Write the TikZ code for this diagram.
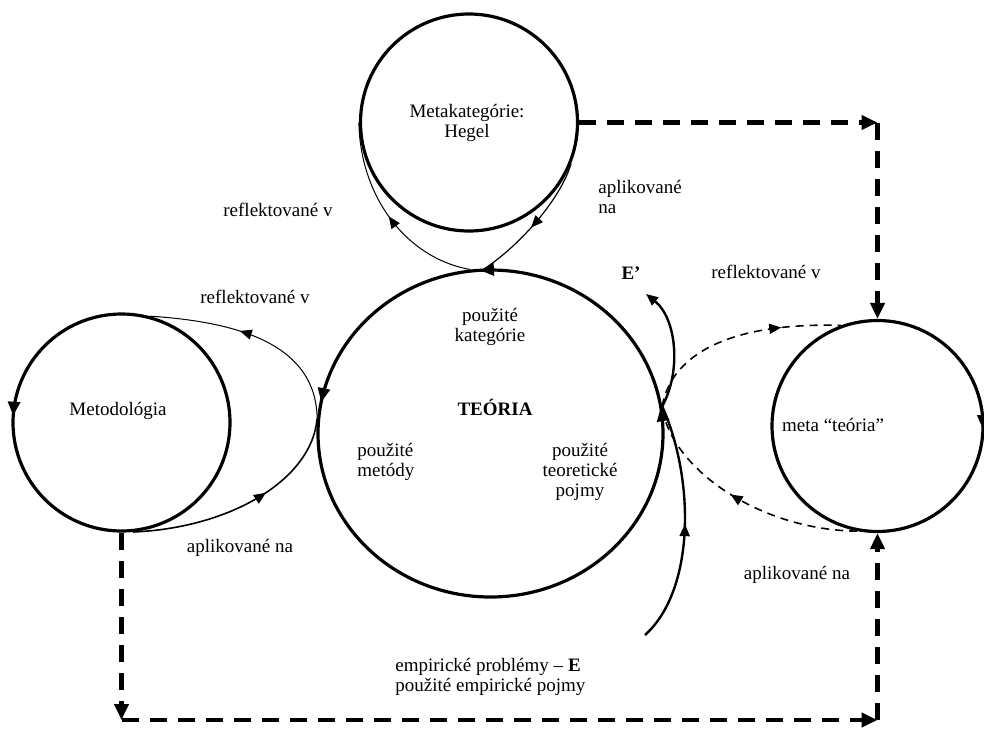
\documentclass[tikz,border=0pt]{standalone}
\usepackage{fontspec}
\setmainfont{Liberation Serif}
\usetikzlibrary{arrows.meta, shapes.geometric, decorations.markings}

\tikzset{
  ring/.style={circle, draw, line width=1.6pt, inner sep=0pt, minimum size=#1},
  lbl/.style={inner sep=0pt, align=center, font=\fontsize{9.5}{10}\selectfont},
  headtip/.style={-{Triangle[length=6pt,width=5pt]}},
  midtip/.style={postaction={decorate}, decoration={markings,
      mark=at position #1 with {\arrow{Triangle[length=6pt,width=5pt]}}}},
  ringtip/.style={postaction={decorate}, decoration={markings,
      mark=at position #1 with {\arrow{Triangle[length=7pt,width=6pt]}}}},
  thinline/.style={line width=0.5pt},
  bigdash/.style={line width=2.4pt, dash pattern=on 8.5pt off 5.5pt,
      -{Triangle[length=8pt,width=7pt]}},
  smalldash/.style={line width=0.8pt, dash pattern=on 4pt off 3pt}
}

\begin{document}
\begin{tikzpicture}[x=0.5pt, y=-0.5pt]
  \useasboundingbox (0,0) rectangle (984,729);

  % circles
  \node[ring=108.5pt]                (Heg)  at (469,122.5) {};
  \node[ring=108.5pt, ringtip=0.49]  (Met)  at (121.5,422.5) {};
  \node[ellipse, draw, line width=1.6pt, inner sep=0pt,
        minimum width=172.5pt, minimum height=163.5pt,
        postaction={decorate}, decoration={markings,
          mark=at position 0.025 with {\arrow{Triangle[length=7pt,width=6pt]}},
          mark=at position 0.26 with {\arrow{Triangle[length=7pt,width=6pt]}},
          mark=at position 0.47 with {\arrow{Triangle[length=7pt,width=6pt]}}}]
                                     (Teo)  at (490.5,433.5) {};
  \node[circle, draw, line width=1.6pt, inner sep=0pt, minimum size=105.5pt,
        postaction={decorate}, decoration={markings,
          mark=at position 0.995 with {\arrowreversed{Triangle[length=7pt,width=6pt]}}}]
                                     (Meta) at (877.5,426) {};

  % texts
  \node[lbl] (hegT)  at (467,123)  {Metakategórie:\\Hegel};
  \node[lbl] (metT)  at (118,411)  {Metodológia};
  \node[lbl, font=\fontsize{9.5}{10}\selectfont\bfseries] (teoT) at (495,407) {TEÓRIA};
  \node[lbl] (katT)  at (490,327)  {použité\\kategórie};
  \node[lbl, align=left, anchor=west] (metdT) at (357,462) {použité\\metódy};
  \node[lbl] (pojT)  at (580,472)  {použité\\teoretické\\pojmy};
  \node[lbl] (mtT)   at (833,425)  {meta “teória”};
  \node[lbl] (refA)  at (278,210)  {reflektované v};
  \node[lbl, align=left, anchor=west] (aplA) at (598,197) {aplikované\\na};
  \node[lbl] (refB)  at (255,297)  {reflektované v};
  \node[lbl] (aplB)  at (240,548)  {aplikované na};
  \node[lbl] (refC)  at (766,272)  {reflektované v};
  \node[lbl] (aplC)  at (797,575)  {aplikované na};
  \node[lbl] (eT)    at (631,273)  {\textbf{E’}};
  \node[lbl, align=left, anchor=west] (empT) at (395,677)
        {empirické problémy – \textbf{E}\\použité empirické pojmy};

  \coordinate (Ebot) at (645,635);
  \coordinate (Etip) at (646,294);
  \coordinate (cTR)  at (877.5,122.5);
  \coordinate (cBL)  at (121.5,720);
  \coordinate (cBR)  at (877.5,720);

  % Hegel <-> teoria
  \draw[thinline, midtip=0.5] (Teo.97) .. controls (405,258) and (360,195) .. (Heg.west);
  \draw[line width=0.6pt, midtip=0.55] (Heg.-22) .. controls (560,200) and (520,245) .. (Teo.92);

  % metodologia <-> teoria
  \draw[thinline, midtip=0.58] (Teo.175) .. controls (316,345) and (240,322) .. (Met.75);
  \draw[line width=0.8pt, midtip=0.6] (Met.-84) .. controls (230,528) and (312,480) .. (Teo.175);

  % E -> E'
  \draw[line width=1.2pt, midtip=0.5] (Ebot) .. controls (695,590) and (695,480) .. (Teo.9);
  \draw[line width=1.2pt, headtip] (Teo.9) .. controls (682,370) and (676,318) .. (Etip);

  % meta teoria <-> teoria
  \draw[smalldash, midtip=0.72] (Teo.9) .. controls (670,360) and (720,322) .. (Meta.110);
  \draw[smalldash, midtip=0.55] (Meta.-101) .. controls (760,530) and (675,470) .. (Teo.7);

  % frame
  \draw[bigdash] (Heg.east) -- (cTR);
  \draw[bigdash] (cTR) -- (Meta.north);
  \draw[bigdash] (Met.south) -- (cBL);
  \draw[bigdash] (cBL) -- (cBR);
  \draw[bigdash] (cBR) -- (Meta.south);
\end{tikzpicture}
\end{document}
